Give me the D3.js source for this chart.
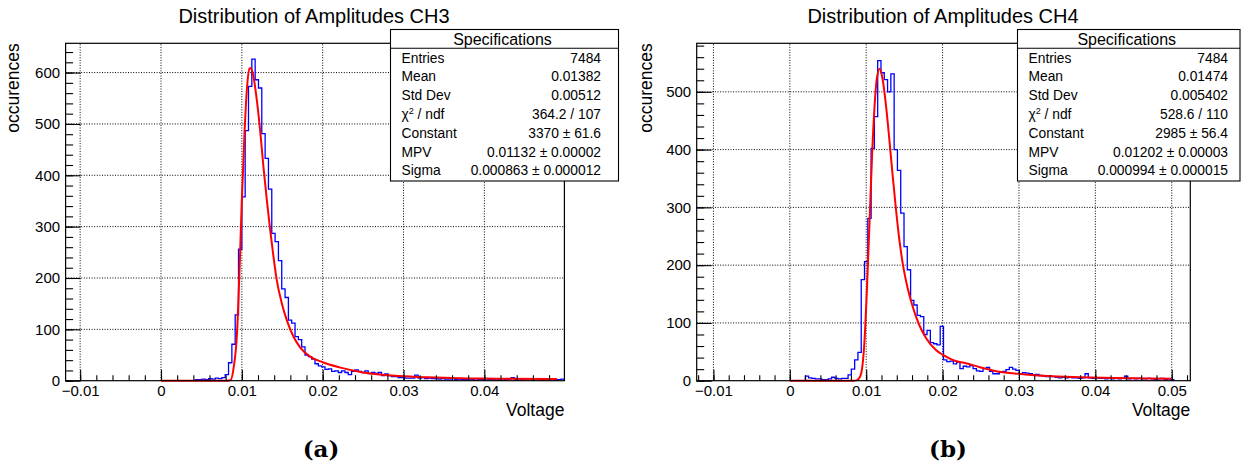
<!DOCTYPE html>
<html>
<head>
<meta charset="utf-8">
<script src="https://cdn.jsdelivr.net/npm/d3@7"></script>
<title>Distribution of Amplitudes</title>
<style>
body { margin: 0; background: #fff; }
svg text { font-family: "Liberation Sans", Arial, sans-serif; fill: #000; }
svg text.caption { font-family: "DejaVu Serif", "Liberation Serif", serif; font-weight: bold; }
</style>
</head>
<body>
<svg id="canvas" width="1245" height="466"></svg>
<script>
// histogram binning (150 bins over the axis range) and bin contents
var ch3Range = [-0.0118, 0.0499];
var ch4Range = [-0.01219, 0.05243];
var nBins = 150;

var ch3FirstBin = 39;
var ch3Counts = [2, 2, 3, 2, 4, 3, 5, 4, 6, 12, 35, 71, 128, 256, 358, 487, 573, 626, 586, 570,
  481, 433, 373, 287, 271, 234, 179, 162, 118, 112, 86, 80, 66, 50, 47, 42, 33, 29, 27, 22,
  23, 18, 19, 16, 19, 16, 12, 18, 21, 18, 16, 19, 14, 16, 14, 16, 10, 13, 10, 8,
  8, 6, 6, 5, 5, 5, 11, 5, 6, 4, 5, 4, 4, 3, 4, 3, 3, 4, 2, 3,
  2, 2, 3, 2, 1, 2, 2, 1, 2, 2, 1, 2, 1, 2, 3, 6, 2, 1, 2, 3,
  4, 2, 4, 2, 1, 2, 3, 2, 1, 2, 3];

var ch4FirstBin = 33;
var ch4Counts = [8, 5, 4, 3, 3, 2, 2, 3, 6, 4, 3, 4, 4, 10, 20, 36, 49, 175, 206, 281,
  402, 457, 554, 533, 521, 500, 531, 400, 364, 290, 232, 192, 139, 131, 113, 111, 80, 87, 66, 64,
  62, 94, 36, 33, 34, 29, 32, 21, 25, 24, 26, 21, 17, 16, 21, 23, 16, 12, 12, 15,
  16, 19, 23, 20, 18, 12, 14, 13, 12, 10, 11, 9, 8, 7, 8, 7, 6, 5, 6, 5,
  6, 5, 5, 4, 5, 12, 5, 4, 5, 4, 4, 3, 4, 3, 4, 3, 4, 8, 3, 4,
  3, 4, 3, 3, 4, 3, 2, 3, 4, 2, 3, 2];

// Landau fit curves, [voltage, occurences] points
var ch3Fit = [[0, 0], [0.008, 0], [0.0086, 1], [0.009, 27], [0.0094, 92], [0.0097, 209], [0.01, 352],
  [0.01033, 482], [0.01062, 566], [0.01095, 608], [0.01113, 609], [0.01144, 592], [0.01185, 547],
  [0.01226, 488], [0.01267, 417], [0.01309, 352], [0.0135, 294], [0.01391, 242], [0.01432, 196],
  [0.01494, 151], [0.01556, 118], [0.01638, 86], [0.0172, 65], [0.01844, 47], [0.02, 36],
  [0.0221, 26], [0.025, 16], [0.027, 12], [0.0295, 9], [0.033, 6.5], [0.037, 4.7], [0.0414, 4], [0.049, 3.2]];
var ch4Fit = [[0, 0], [0.0083, 0], [0.0088, 1], [0.009, 3], [0.00935, 13], [0.00978, 70], [0.01009, 157],
  [0.01043, 272], [0.01078, 393], [0.01109, 474], [0.01139, 523], [0.01178, 540], [0.01217, 520],
  [0.01261, 474], [0.01304, 416], [0.01348, 353], [0.01391, 295], [0.01435, 243], [0.01478, 203],
  [0.01543, 160], [0.01609, 128], [0.01696, 96], [0.01783, 74], [0.01913, 53], [0.02, 45],
  [0.0217, 34], [0.0228, 31], [0.025, 23], [0.0272, 16], [0.0302, 11.6], [0.0337, 8], [0.0381, 6],
  [0.0425, 4.7], [0.0499, 3.4]];

// axis ticks
var ch3XTicks = [-0.01, 0, 0.01, 0.02, 0.03, 0.04];
var ch4XTicks = [-0.01, 0, 0.01, 0.02, 0.03, 0.04, 0.05];
var ch3YTicks = [0, 100, 200, 300, 400, 500, 600];
var ch4YTicks = [0, 100, 200, 300, 400, 500];
var ch3YMax = 657;
var ch4YMax = 584;

// stats box contents
var statLabels = ["Entries", "Mean", "Std Dev", "chi2", "Constant", "MPV", "Sigma"];
var ch3Stats = ["7484", "0.01382", "0.00512", "364.2 / 107", "3370 \u00b1 61.6", "0.01132 \u00b1 0.00002", "0.000863 \u00b1 0.000012"];
var ch4Stats = ["7484", "0.01474", "0.005402", "528.6 / 110", "2985 \u00b1 56.4", "0.01202 \u00b1 0.00003", "0.000994 \u00b1 0.000015"];

var svg = d3.select("#canvas");

function drawPanel(p) {
    var xScale = d3.scaleLinear().domain(p.range).range([p.left, p.right]);
    var yScale = d3.scaleLinear().domain([0, p.yMax]).range([380.7, 43.3]);
    var g = svg.append("g");
    var binW = (p.range[1] - p.range[0]) / nBins;
    var edge = function(i) { return p.range[0] + i * binW; };

    // dotted grid at the major ticks
    g.append("g").selectAll("line").data(p.xTicks).enter().append("line")
        .attr("x1", function(d) { return xScale(d); }).attr("x2", function(d) { return xScale(d); })
        .attr("y1", yScale(0)).attr("y2", yScale(p.yMax))
        .attr("stroke", "#000").attr("stroke-width", 1).attr("stroke-dasharray", "1,1.6");
    g.append("g").selectAll("line").data(p.yTicks.filter(function(d) { return d > 0; })).enter().append("line")
        .attr("x1", p.left).attr("x2", p.right)
        .attr("y1", function(d) { return yScale(d); }).attr("y2", function(d) { return yScale(d); })
        .attr("stroke", "#000").attr("stroke-width", 1).attr("stroke-dasharray", "1,1.6");

    // histogram outline
    var pts = [[edge(p.first), 0]];
    p.counts.forEach(function(c, i) { pts.push([edge(p.first + i), c]); });
    var lastEdge = edge(p.first + p.counts.length);
    pts.push([lastEdge, p.counts[p.counts.length - 1]]);
    pts.push([lastEdge, 0]);
    var histLine = d3.line()
        .x(function(d) { return xScale(d[0]); })
        .y(function(d) { return yScale(d[1]); })
        .curve(d3.curveStepAfter);
    g.append("path").datum(pts).attr("d", histLine)
        .attr("fill", "none").attr("stroke", "#0000ff").attr("stroke-width", 1.3);

    // fit
    var fitLine = d3.line()
        .x(function(d) { return xScale(d[0]); })
        .y(function(d) { return yScale(d[1]); })
        .curve(d3.curveMonotoneX);
    g.append("path").datum(p.fit).attr("d", fitLine)
        .attr("fill", "none").attr("stroke", "#ff0000").attr("stroke-width", 2);

    // frame
    g.append("rect").attr("x", p.left).attr("y", 43.3)
        .attr("width", p.right - p.left).attr("height", 380.7 - 43.3)
        .attr("fill", "none").attr("stroke", "#000").attr("stroke-width", 1.2);

    // x axis: major + minor ticks pointing inward
    var xMinor = d3.range(Math.ceil(p.range[0] / 0.002), Math.floor(p.range[1] / 0.002) + 1)
        .map(function(k) { return k * 0.002; });
    var xAxMinor = g.append("g").attr("transform", "translate(0,380.7)")
        .call(d3.axisBottom(xScale).tickValues(xMinor).tickSize(-5.5).tickFormat(""));
    var xAx = g.append("g").attr("transform", "translate(0,380.7)")
        .call(d3.axisBottom(xScale).tickValues(p.xTicks).tickSize(-11).tickPadding(4.5)
            .tickFormat(function(d) { return d === 0 ? "0" : (d < 0 ? "\u2212" + d3.format(".2f")(-d) : d3.format(".2f")(d)); }));

    // y axis
    var yMinor = d3.range(0, p.yMax, 20);
    var yAxMinor = g.append("g").attr("transform", "translate(" + p.left + ",0)")
        .call(d3.axisLeft(yScale).tickValues(yMinor).tickSize(-7.5).tickFormat(""));
    var yAx = g.append("g").attr("transform", "translate(" + p.left + ",0)")
        .call(d3.axisLeft(yScale).tickValues(p.yTicks).tickSize(-15).tickPadding(5.5));

    [xAxMinor, xAx, yAxMinor, yAx].forEach(function(a) {
        a.select(".domain").remove();
        a.selectAll("line").attr("stroke", "#000").attr("stroke-width", 1.1);
        a.selectAll("text").attr("font-size", 15).attr("fill", "#000");
    });

    // titles
    g.append("text").attr("x", p.titleX).attr("y", 22.7).attr("text-anchor", "middle")
        .attr("font-size", 20).text(p.title);
    g.append("text").attr("transform", "translate(" + p.yLabelX + ",43.3) rotate(-90)")
        .attr("text-anchor", "end").attr("font-size", 17.5).text("occurences");
    g.append("text").attr("x", p.right).attr("y", 416).attr("text-anchor", "end")
        .attr("font-size", 17.5).text("Voltage");

    // stats box
    var bx0 = p.boxLeft, bx1 = p.boxRight;
    g.append("rect").attr("x", bx0).attr("y", 29.5).attr("width", bx1 - bx0).attr("height", 181 - 29.5)
        .attr("fill", "#fff").attr("stroke", "#000").attr("stroke-width", 1.1);
    g.append("line").attr("x1", bx0).attr("x2", bx1).attr("y1", 48.3).attr("y2", 48.3)
        .attr("stroke", "#000").attr("stroke-width", 1.1);
    g.append("text").attr("x", (bx0 + bx1) / 2 - 2).attr("y", 44.5).attr("text-anchor", "middle")
        .attr("font-size", 16).text("Specifications");
    statLabels.forEach(function(lab, i) {
        var yy = 62.5 + i * 18.8;
        var t = g.append("text").attr("x", bx0 + 11).attr("y", yy).attr("font-size", 13.8);
        if (lab === "chi2") {
            t.append("tspan").text("\u03c7");
            t.append("tspan").attr("dy", -5).attr("font-size", 9).text("2");
            t.append("tspan").attr("dy", 5).text(" / ndf");
        } else {
            t.text(lab);
        }
        g.append("text").attr("x", p.valueX).attr("y", yy).attr("text-anchor", "end")
            .attr("font-size", 13.8).text(p.stats[i]);
    });

    // sub caption
    g.append("text").attr("class", "caption").attr("x", p.capX).attr("y", 457)
        .attr("text-anchor", "middle").attr("font-size", 23).text(p.caption);
}

drawPanel({
    range: ch3Range, left: 65.6, right: 564.4, yMax: ch3YMax,
    first: ch3FirstBin, counts: ch3Counts, fit: ch3Fit,
    xTicks: ch3XTicks, yTicks: ch3YTicks,
    title: "Distribution of Amplitudes CH3", titleX: 314, yLabelX: 19,
    boxLeft: 390.5, boxRight: 618.5, valueX: 601, stats: ch3Stats,
    caption: "(a)", capX: 321
});
drawPanel({
    range: ch4Range, left: 696.7, right: 1190.3, yMax: ch4YMax,
    first: ch4FirstBin, counts: ch4Counts, fit: ch4Fit,
    xTicks: ch4XTicks, yTicks: ch4YTicks,
    title: "Distribution of Amplitudes CH4", titleX: 943, yLabelX: 651.8,
    boxLeft: 1017.5, boxRight: 1240, valueX: 1228, stats: ch4Stats,
    caption: "(b)", capX: 948
});
</script>
</body>
</html>
